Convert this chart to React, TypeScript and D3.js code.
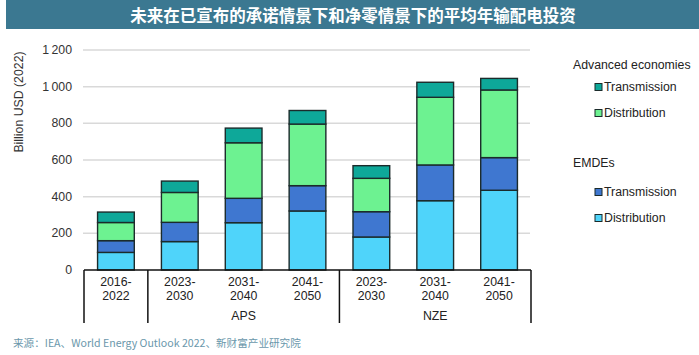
import React from "react";
import * as d3 from "d3";

const categories = ["2016-2022", "APS 2023-2030", "APS 2031-2040", "APS 2041-2050", "NZE 2023-2030", "NZE 2031-2040", "NZE 2041-2050"];
const tickLine1 = ["2016-", "2023-", "2031-", "2041-", "2023-", "2031-", "2041-"];
const tickLine2 = ["2022", "2030", "2040", "2050", "2030", "2040", "2050"];
const groups = [
  { label: "", start: 0, end: 1 },
  { label: "APS", start: 1, end: 4 },
  { label: "NZE", start: 4, end: 7 },
];
const emdeDistribution = [96, 155, 258, 322, 180, 378, 435];
const emdeTransmission = [64, 105, 133, 138, 138, 195, 178];
const advDistribution = [99, 163, 303, 336, 182, 369, 369];
const advTransmission = [57, 62, 80, 74, 69, 82, 63];
const yTicks = [0, 200, 400, 600, 800, 1000, 1200];

const seriesKeys = ["emdeDist", "emdeTrans", "advDist", "advTrans"];
const colors: Record<string, string> = {
  emdeDist: "#4fd4fa",
  emdeTrans: "#3f77d0",
  advDist: "#6df291",
  advTrans: "#0ea899",
};

const fmt = (v: number) => (v >= 1000 ? d3.format(",")(v).replace(",", "\u2009") : String(v));

export default function App() {
  const W = 699, H = 355;
  const left = 84, right = 531, y0 = 270, yTop = 50;
  const x = d3.scaleBand<string>().domain(categories).range([left, right]).paddingInner(0.425).paddingOuter(0.2125);
  const y = d3.scaleLinear().domain([0, 1200]).range([y0, yTop]);
  const rows = categories.map((c, i) => ({
    cat: c,
    emdeDist: emdeDistribution[i],
    emdeTrans: emdeTransmission[i],
    advDist: advDistribution[i],
    advTrans: advTransmission[i],
  }));
  const stacked = d3.stack<any>().keys(seriesKeys)(rows);
  const step = x.step();
  const edge = (i: number) => left + step * i;
  const font = "'Liberation Sans', Arial, sans-serif";

  const legend = [
    { head: "Advanced economies", y: 65, items: [{ k: "advTrans", t: "Transmission", y: 87 }, { k: "advDist", t: "Distribution", y: 113 }] },
    { head: "EMDEs", y: 163, items: [{ k: "emdeTrans", t: "Transmission", y: 192 }, { k: "emdeDist", t: "Distribution", y: 218 }] },
  ];

  return (
    <svg width={W} height={H} style={{ position: "absolute", left: 0, top: 0, background: "#fff" }}>
      <rect x={0} y={0} width={W} height={H} fill="#fff" />
      <rect x={6} y={0} width={693} height={29} fill="#3b7891" />
      <text x={353} y={15} textAnchor="middle" dominantBaseline="central" fill="#fff" fontSize={16.5} fontWeight="bold" fontFamily="'Noto Sans CJK SC', sans-serif">
        未来在已宣布的承诺情景下和净零情景下的平均年输配电投资
      </text>

      {yTicks.filter((t) => t > 0).map((t) => (
        <line key={t} x1={83} x2={530} y1={y(t)} y2={y(t)} stroke="#d9d9d9" strokeWidth={1.5} />
      ))}
      {yTicks.map((t) => (
        <text key={t} x={72} y={y(t)} textAnchor="end" dominantBaseline="central" fontSize={12.3} fill="#333" fontFamily={font}>
          {fmt(t)}
        </text>
      ))}
      <text transform={`translate(19,102) rotate(-90)`} textAnchor="middle" dominantBaseline="central" fontSize={12.3} fill="#333" fontFamily={font}>
        Billion USD (2022)
      </text>

      {stacked.map((s) => (
        <g key={s.key} fill={colors[s.key]}>
          {s.map((d: any, i: number) => (
            <rect key={i} x={x(categories[i])} width={x.bandwidth()} y={y(d[1])} height={y(d[0]) - y(d[1])} stroke="#1b2b2b" strokeWidth={1.4} />
          ))}
        </g>
      ))}

      <line x1={left} x2={right} y1={y0} y2={y0} stroke="#111" strokeWidth={1.5} />
      {[0, 1, 4, 7].map((i) => (
        <line key={i} x1={edge(i)} x2={edge(i)} y1={y0} y2={323} stroke="#111" strokeWidth={1.5} />
      ))}
      {categories.map((c, i) => (
        <g key={c} fontSize={12.3} fill="#222" fontFamily={font} textAnchor="middle">
          <text x={(x(c) as number) + x.bandwidth() / 2} y={286}>{tickLine1[i]}</text>
          <text x={(x(c) as number) + x.bandwidth() / 2} y={300}>{tickLine2[i]}</text>
        </g>
      ))}
      {groups.map((g) => (
        <text key={g.label} x={(edge(g.start) + edge(g.end)) / 2} y={320} textAnchor="middle" fontSize={12.3} fill="#222" fontFamily={font}>
          {g.label}
        </text>
      ))}

      {legend.map((grp) => (
        <g key={grp.head} fontFamily={font} fontSize={12.3} fill="#222">
          <text x={573} y={grp.y} dominantBaseline="central">{grp.head}</text>
          {grp.items.map((it) => (
            <g key={it.k}>
              <rect x={595} y={it.y - 3.5} width={7} height={7} fill={colors[it.k]} stroke="#1b2b2b" strokeWidth={1} />
              <text x={604} y={it.y} dominantBaseline="central">{it.t}</text>
            </g>
          ))}
        </g>
      ))}

      <text x={13} y={347} fontSize={10.6} fill="#6a97ab" fontFamily="'Noto Sans CJK SC', sans-serif">
        来源：IEA、World Energy Outlook 2022、新财富产业研究院
      </text>
    </svg>
  );
}
